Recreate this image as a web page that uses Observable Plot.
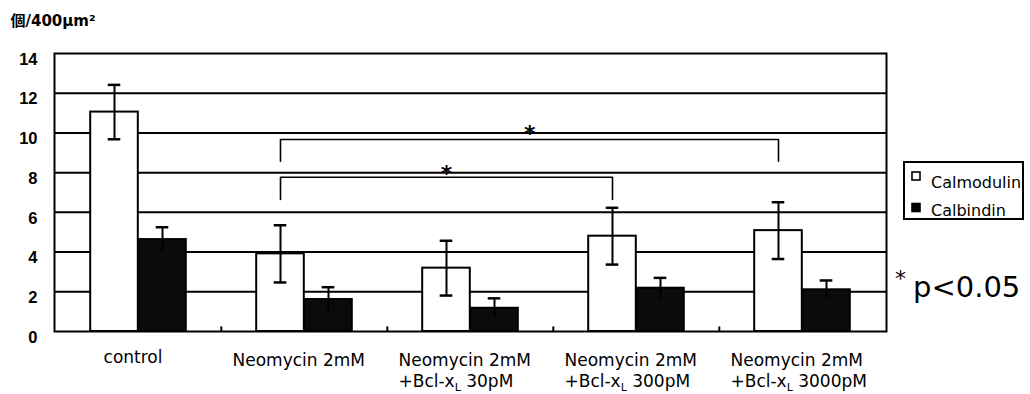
<!DOCTYPE html>
<html>
<head>
<meta charset="utf-8">
<script src="https://cdn.jsdelivr.net/npm/d3@7"></script>
<script src="https://cdn.jsdelivr.net/npm/@observablehq/plot@0.6"></script>
<style>
  html, body { margin: 0; padding: 0; background: #fff; }
  #chart { position: relative; width: 1030px; height: 394px; }
</style>
</head>
<body>
<div id="chart"></div>
<script>
// ---- data ----
const categories = ["control", "Neomycin 2mM", "Neomycin 2mM +Bcl-xL 30pM", "Neomycin 2mM +Bcl-xL 300pM", "Neomycin 2mM +Bcl-xL 3000pM"];
const tickLabels = ["control", "Neomycin 2mM", "Neomycin 2mM\n+Bcl-x_L 30pM", "Neomycin 2mM\n+Bcl-x_L 300pM", "Neomycin 2mM\n+Bcl-x_L 3000pM"];
const series = ["Calmodulin", "Calbindin"];
const calmodulin = [11.05, 3.91, 3.19, 4.80, 5.08];
const calmodulinErr = [1.37, 1.44, 1.38, 1.43, 1.43];
const calbindin = [4.63, 1.61, 1.17, 2.18, 2.10];
const calbindinErr = [0.62, 0.62, 0.50, 0.52, 0.47];
const yTicks = [0, 2, 4, 6, 8, 10, 12, 14];
const gridValues = [2, 4, 6, 8, 10, 12];
const yTitle = "個/400μm²";
const significance = "p<0.05";
// significance brackets: between Calmodulin bars of category indices a and b
const comparisons = [
  {a: 1, b: 4, top: 9.67, bottom: 8.57, star: 10.24},
  {a: 1, b: 3, top: 7.77, bottom: 6.65, star: 8.22}
];

// ---- layout ----
const W = 1030, H = 394;
const mL = 54, mR = 144, mT = 53, mB = 63;
const step = (W - mL - mR) / categories.length;
const half = step / 2;
const barW = 48;
const off = [-barW / 2, barW / 2];
const capHalf = 6.5;
const FONT = "DejaVu Sans, sans-serif";

const values = [calmodulin, calbindin];
const errors = [calmodulinErr, calbindinErr];
const rows = categories.flatMap((c, i) => series.map((s, j) => ({category: c, series: s, value: values[j][i], err: errors[j][i]})));

const seriesMarks = series.flatMap((s, j) => {
  const data = rows.filter(d => d.series === s);
  const insetLeft = j === 0 ? half - barW : half;
  const insetRight = j === 0 ? half : half - barW;
  const marks = [
    Plot.rectY(data, {x: "category", y1: 0, y2: "value", fill: j === 0 ? "#fff" : "#0b0b0b", stroke: "#000", strokeWidth: 2, insetLeft, insetRight}),
    Plot.ruleX(data, {x: "category", y1: d => d.value - d.err, y2: d => d.value + d.err, dx: off[j], stroke: "#000", strokeWidth: 2}),
    Plot.tickY(data, {x: "category", y: d => d.value + d.err, dx: off[j], insetLeft: half - capHalf, insetRight: half - capHalf, stroke: "#000", strokeWidth: 2.5})
  ];
  if (j === 0) marks.push(Plot.tickY(data, {x: "category", y: d => d.value - d.err, dx: off[j], insetLeft: half - capHalf, insetRight: half - capHalf, stroke: "#000", strokeWidth: 2.5}));
  return marks;
});

const bracketPts = comparisons.flatMap((c, k) => [
  {g: k, x: categories[c.a], y: c.bottom},
  {g: k, x: categories[c.a], y: c.top},
  {g: k, x: categories[c.b], y: c.top},
  {g: k, x: categories[c.b], y: c.bottom}
]);

const starMarks = comparisons.map(c => {
  const mid = (c.a + c.b) / 2;
  const fi = Math.floor(mid);
  return Plot.text([c], {x: () => categories[fi], y: "star", text: () => "*", dx: off[0] + (mid - fi) * step, dy: 6, fontSize: 22, fontWeight: "bold", fontFamily: FONT, fill: "#000"});
});

const labelRows = categories.map((c, i) => ({category: c, label: tickLabels[i]}));

const svg = Plot.plot({
  width: W, height: H,
  marginLeft: mL, marginRight: mR, marginTop: mT, marginBottom: mB,
  style: {background: "#fff", color: "#000", overflow: "visible"},
  x: {domain: categories, paddingInner: 0, paddingOuter: 0, axis: null},
  y: {domain: [0, 14], axis: null},
  marks: [
    Plot.ruleY(gridValues, {stroke: "#000", strokeWidth: 2}),
    Plot.ruleX(categories.slice(1), {x: d => d, y1: 0, y2: 0.23, dx: -half, stroke: "#000", strokeWidth: 2}),
    ...seriesMarks,
    Plot.line(bracketPts, {x: "x", y: "y", z: "g", sort: null, dx: off[0], stroke: "#000", strokeWidth: 1.6}),
    ...starMarks,
    Plot.frame({stroke: "#000", strokeWidth: 2}),
    Plot.axisY({ticks: yTicks, tickSize: 0, tickPadding: 17, label: null, fontSize: 16.5, fontWeight: "bold", fontFamily: "Liberation Sans, Arial, sans-serif", dy: 6}),
    Plot.text(labelRows.slice(0, 1), {x: "category", y: 0, text: "label", textAnchor: "middle", dx: -5.5, lineAnchor: "top", dy: 19, fontSize: 17, fontFamily: FONT, fill: "#000"}),
    Plot.text(labelRows.slice(1), {x: "category", y: 0, text: "label", textAnchor: "start", dx: -72, lineAnchor: "top", dy: 19, lineHeight: 1.265, fontSize: 17, fontFamily: FONT, fill: "#000", className: "xlab"}),
    Plot.text([yTitle], {frameAnchor: "top-left", text: d => d, dx: -44, dy: -32, textAnchor: "start", lineAnchor: "middle", fontSize: 15, fontWeight: "bold", fontFamily: "DejaVu Sans, Noto Sans CJK JP, sans-serif", fill: "#000"})
  ]
});

// subscript L in "x_L"
d3.select(svg).selectAll(".xlab tspan").each(function() {
  const t = d3.select(this);
  const s = t.text();
  const k = s.indexOf("_L");
  if (k < 0) return;
  t.text(s.slice(0, k));
  t.append("tspan").attr("font-size", 11).attr("dy", 4).text("L");
  t.append("tspan").attr("dy", -4).text(s.slice(k + 2));
});

// legend and significance note
const g = d3.select(svg).append("g").attr("font-family", FONT).attr("fill", "#000").attr("text-anchor", "start");
g.append("rect").attr("x", 904).attr("y", 162).attr("width", 119).attr("height", 57)
  .attr("fill", "none").attr("stroke", "#000").attr("stroke-width", 2);
const legendY = [176, 207.5];
series.forEach((s, j) => {
  g.append("rect").attr("x", 912).attr("y", legendY[j] - 4).attr("width", 8).attr("height", 8)
    .attr("fill", j === 0 ? "#fff" : "#000").attr("stroke", "#000").attr("stroke-width", 1.6);
  g.append("text").attr("x", 931).attr("y", j === 0 ? 188 : 216).attr("font-size", 16).text(s);
});
g.append("text").attr("x", 895).attr("y", 286).attr("font-size", 22).text("*");
g.append("text").attr("x", 913).attr("y", 297).attr("font-size", 29).text(significance);

document.getElementById("chart").appendChild(svg);
</script>
</body>
</html>
